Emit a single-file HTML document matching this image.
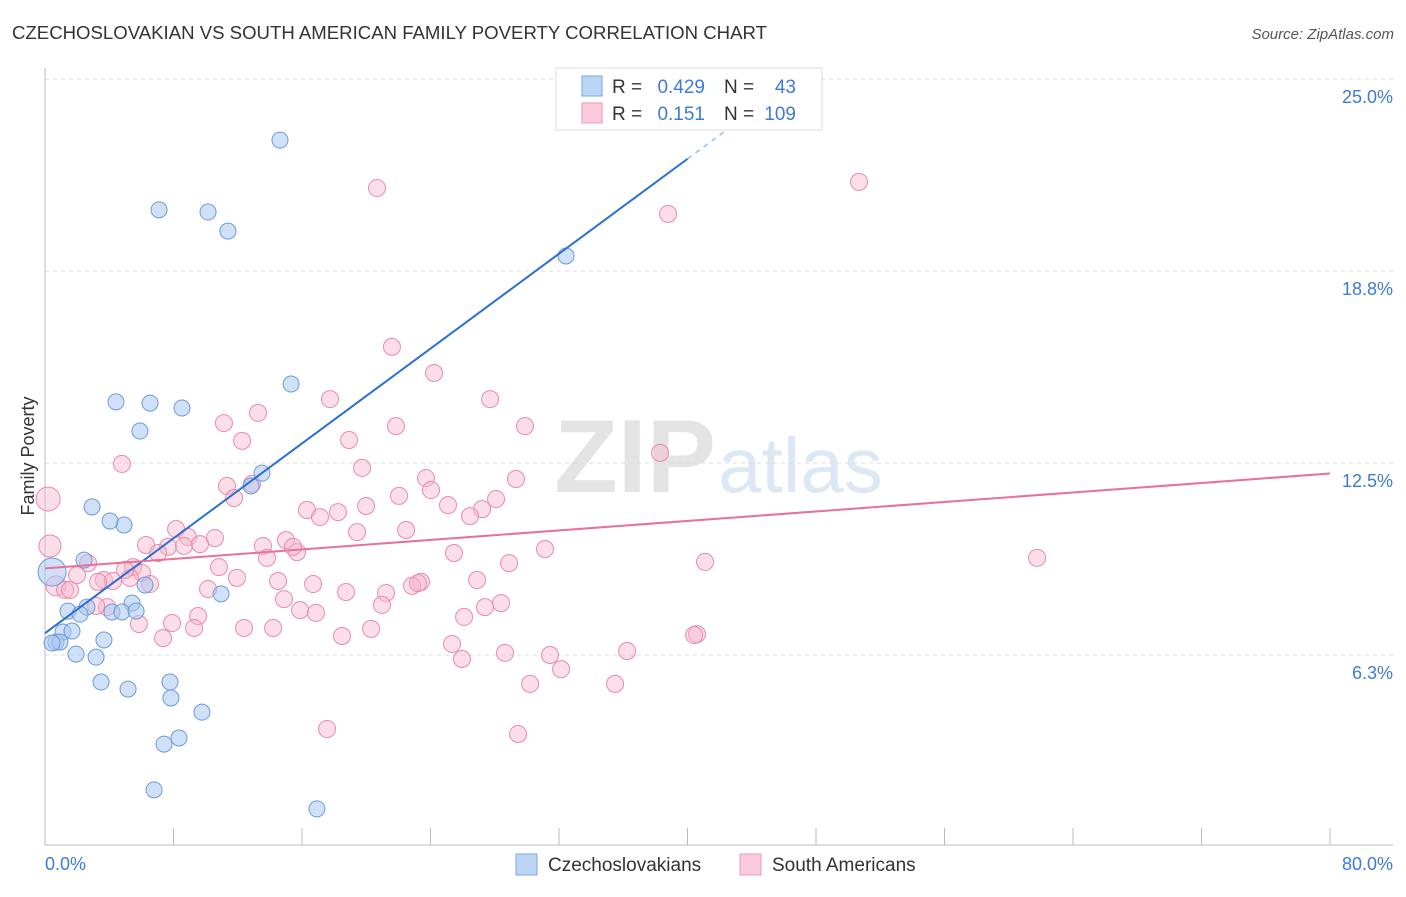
<!DOCTYPE html>
<html><head><meta charset="utf-8">
<style>
body{margin:0;background:#fff;font-family:"Liberation Sans",sans-serif;}
svg text{font-family:"Liberation Sans",sans-serif;}
</style></head>
<body>
<svg id="chart" width="1406" height="892" viewBox="0 0 1406 892" xmlns="http://www.w3.org/2000/svg">
<text x="12" y="39" font-size="18.6" fill="#333">CZECHOSLOVAKIAN VS SOUTH AMERICAN FAMILY POVERTY CORRELATION CHART</text>
<text x="1394" y="39" font-size="15" fill="#555" text-anchor="end" font-style="italic">Source: ZipAtlas.com</text>
<text x="716" y="492" font-size="104" fill="#e4e4e4" text-anchor="end" font-family="Liberation Serif" font-weight="bold">ZIP</text>
<text x="718" y="492" font-size="78" fill="#dde8f5">atlas</text>
<g id="grid"></g>
<g id="axes"></g>
<g id="pts"></g>
<g id="lines"></g>
<text transform="translate(34,456) rotate(-90)" font-size="18" fill="#333" text-anchor="middle">Family Poverty</text>
<text x="45" y="870" font-size="18" fill="#3d7bd9">0.0%</text>
<text x="1393" y="870" font-size="18" fill="#3d7bd9" text-anchor="end">80.0%</text>
<g>
<rect x="556" y="68" width="266" height="62" fill="#fff" stroke="#ddd"/>
<rect x="582" y="76" width="20" height="20" fill="#bcd5f5" stroke="#7aa6e0"/>
<rect x="582" y="103" width="20" height="20" fill="#fbcadb" stroke="#ee9bb8"/>
<text x="612" y="93" font-size="19" fill="#333">R =</text>
<text x="705" y="93" font-size="19" fill="#3d7bd9" text-anchor="end">0.429</text>
<text x="724" y="93" font-size="19" fill="#333">N =</text>
<text x="796" y="93" font-size="19" fill="#3d7bd9" text-anchor="end">43</text>
<text x="612" y="120" font-size="19" fill="#333">R =</text>
<text x="705" y="120" font-size="19" fill="#3d7bd9" text-anchor="end">0.151</text>
<text x="724" y="120" font-size="19" fill="#333">N =</text>
<text x="796" y="120" font-size="19" fill="#3d7bd9" text-anchor="end">109</text>
</g>
<g>
<rect x="516" y="854" width="21" height="21" fill="#bcd5f5" stroke="#7aa6e0"/>
<text x="548" y="871" font-size="19" fill="#333">Czechoslovakians</text>
<rect x="740" y="854" width="21" height="21" fill="#fbcadb" stroke="#ee9bb8"/>
<text x="772" y="871" font-size="19" fill="#333">South Americans</text>
</g>
</svg>
<script>
const yTicks=[25,18.75,12.5,6.25];
const yTickLabels=["25.0%","18.8%","12.5%","6.3%"];
const xTicks=[0,8,16,24,32,40,48,56,64,72,80];
const blueX=[14.63,7.10,10.15,11.39,32.44,15.32,4.42,6.54,8.53,5.91,13.51,12.83,2.93,4.92,2.43,4.05,0.44,6.23,10.96,1.43,2.61,4.17,5.42,4.79,5.67,2.18,1.12,1.68,0.68,0.93,3.67,1.93,3.18,3.49,5.17,7.78,7.84,9.77,8.34,7.41,6.79,16.93,0.44];
const blueY=[23.01,20.74,20.67,20.05,19.24,15.07,14.49,14.45,14.29,13.54,12.17,11.75,11.07,10.48,9.34,10.61,8.95,8.53,8.24,7.68,7.81,7.65,7.94,7.65,7.68,7.58,7.00,7.03,6.67,6.67,6.74,6.28,6.18,5.37,5.14,5.37,4.85,4.39,3.55,3.35,1.86,1.24,6.64];
const pinkX=[20.67,50.68,38.79,21.60,24.22,17.74,27.71,13.26,11.14,21.85,29.88,18.93,12.27,38.29,4.79,19.74,23.72,29.32,11.33,12.89,24.03,22.04,11.77,0.19,28.08,19.99,25.09,27.21,16.31,26.46,17.12,18.24,8.16,22.48,19.43,0.31,8.90,6.29,10.58,15.00,7.66,8.65,13.57,9.65,15.69,15.44,25.46,31.13,7.04,13.82,28.89,41.09,61.76,2.68,5.48,10.83,6.04,1.99,11.95,3.67,14.51,5.29,4.23,3.30,16.69,23.41,26.90,6.54,22.85,23.22,0.68,1.25,1.56,10.15,18.74,21.23,14.88,20.98,28.39,27.39,3.86,15.88,16.87,9.53,26.09,5.85,7.91,9.28,12.39,14.20,20.30,18.49,7.35,40.59,40.41,25.34,36.24,28.64,31.44,25.96,32.13,30.20,35.49,17.56,29.45,3.18,4.98];
const pinkY=[21.45,21.65,20.61,16.28,15.43,14.58,14.58,14.13,13.80,13.70,13.70,13.25,13.22,12.83,12.47,12.34,12.01,11.98,11.75,11.82,11.62,11.43,11.36,11.33,11.33,11.10,11.13,11.00,10.97,10.77,10.74,10.90,10.35,10.32,10.25,9.80,10.09,9.83,10.06,9.99,9.77,9.80,9.80,9.86,9.60,9.77,9.57,9.70,9.57,9.41,9.24,9.28,9.41,9.24,9.11,9.11,8.92,8.85,8.76,8.69,8.66,8.76,8.66,8.63,8.56,8.63,8.69,8.56,8.50,8.59,8.50,8.37,8.37,8.40,8.30,8.27,8.07,7.88,7.94,7.81,7.81,7.71,7.62,7.52,7.49,7.26,7.29,7.13,7.13,7.13,7.10,6.87,6.80,6.93,6.90,6.61,6.38,6.32,6.25,6.12,5.79,5.31,5.31,3.84,3.68,7.85,9.02];
const blueBig=[16];
const pinkBig={23:12,35:11,70:10};
const blueTrend=[6.96,0.386];
const pinkTrend=[9.07,0.0386];

const NS="http://www.w3.org/2000/svg";
const X=v=>45+v/80*1285;
const Y=v=>847-v*30.72;
function mk(tag,attrs,parent){const e=document.createElementNS(NS,tag);for(const k in attrs)e.setAttribute(k,attrs[k]);document.getElementById(parent).appendChild(e);return e;}

yTicks.forEach((t,i)=>{
  const l=mk('line',{x1:45,x2:1393,y1:Y(t),y2:Y(t),stroke:'#ddd','stroke-dasharray':'4,4'},'grid');
  
  
  const tx=mk('text',{x:1393,y:Y(t)+24,'font-size':18,fill:'#3d7bd9','text-anchor':'end'},'grid');
  tx.textContent=yTickLabels[i];
  
  
});
let a=mk('line',{x1:45,x2:45,y1:68,y2:845,stroke:'#bbb'},'axes');


a=mk('line',{x1:45,x2:1393,y1:845,y2:845,stroke:'#bbb'},'axes');


xTicks.forEach(t=>{
  const l=mk('line',{x1:X(t),x2:X(t),y1:828,y2:845,stroke:'#bbb'},'axes');
  
  
});
pinkX.forEach((v,i)=>{
  const r=pinkBig[i]||8.5;
  const c=mk('circle',{cx:X(v),cy:Y(pinkY[i]),r:r,fill:'#f7b6cc','fill-opacity':0.45,stroke:'#e98bab','stroke-width':1},'pts');
  
  
});
blueX.forEach((v,i)=>{
  const r=blueBig.includes(i)?14:8;
  const c=mk('circle',{cx:X(v),cy:Y(blueY[i]),r:r,fill:'#a9c8f0','fill-opacity':0.55,stroke:'#6d9bd8','stroke-width':1},'pts');
  
  
});
let ln=mk('line',{x1:X(0),y1:Y(blueTrend[0]),x2:X(40),y2:Y(blueTrend[0]+blueTrend[1]*40),stroke:'#2a6fd6','stroke-width':2},'lines');


ln=mk('line',{x1:X(40),y1:Y(blueTrend[0]+blueTrend[1]*40),x2:X(43),y2:Y(blueTrend[0]+blueTrend[1]*43),stroke:'#9bbbe8','stroke-width':1.5,'stroke-dasharray':'5,5'},'lines');


ln=mk('line',{x1:X(0),y1:Y(pinkTrend[0]),x2:X(80),y2:Y(pinkTrend[0]+pinkTrend[1]*80),stroke:'#e8709a','stroke-width':2},'lines');


</script>
</body></html>
